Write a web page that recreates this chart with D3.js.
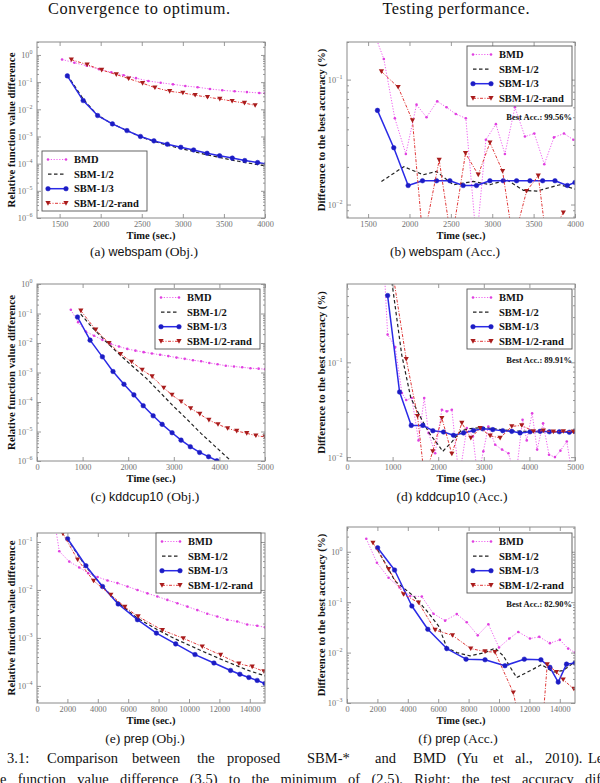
<!DOCTYPE html>
<html><head><meta charset="utf-8">
<script src="https://cdn.jsdelivr.net/npm/d3@7"></script>
<style>body{margin:0;background:#fff}svg{display:block}</style>
</head><body>
<svg id="c" width="600" height="783"></svg>
<script>
// ---------------- DATA ----------------
const seriesNames = ["BMD", "SBM-1/2", "SBM-1/3", "SBM-1/2-rand"];
const columnTitles = ["Convergence to optimum.", "Testing performance."];

// (a) webspam (Obj.)
const a_BMD = [[1530,0.68],[1680,0.52],[1830,0.40],[1980,0.30],[2130,0.23],[2280,0.18],[2430,0.14],[2580,0.11],[2730,0.095],[2880,0.083],[3030,0.072],[3180,0.065],[3330,0.056],[3480,0.050],[3630,0.046],[3780,0.043],[3930,0.040],[4000,0.039]];
const a_S12 = [[1594,0.18],[1700,0.06],[1787,0.024],[1963,0.0060],[2143,0.0029],[2320,0.00165],[2484,0.00098],[2648,0.00066],[2811,0.00048],[2975,0.00036],[3131,0.00028],[3295,0.00021],[3447,0.00017],[3602,0.000135],[3754,0.00011],[3910,9.2e-5],[4000,8.4e-5]];
const a_S13 = [[1594,0.17],[1787,0.021],[1963,0.0059],[2143,0.0029],[2320,0.00165],[2484,0.001],[2648,0.00069],[2811,0.00052],[2975,0.0004],[3131,0.00032],[3295,0.00024],[3447,0.000195],[3602,0.00016],[3754,0.00013],[3910,0.00011],[4020,9.8e-5]];
const a_RAND = [[1643,0.67],[1836,0.44],[2012,0.28],[2190,0.19],[2340,0.135],[2510,0.091],[2660,0.063],[2840,0.046],[3000,0.040],[3150,0.033],[3300,0.028],[3450,0.024],[3600,0.020],[3750,0.017],[3880,0.014]];

// (b) webspam (Acc.)
const b_BMD = [[1560,0.25],[1690,0.146],[1823,0.049],[1956,0.0254],[2085,0.063],[2206,0.050],[2335,0.067],[2448,0.060],[2560,0.053],[2681,0.049],[2810,0.005],[2923,0.033],[3044,0.044],[3153,0.0254],[3274,0.060],[3395,0.035],[3508,0.037],[3629,0.021],[3746,0.0345],[3867,0.037],[3980,0.033]];
const b_S12 = [[1661,0.0153],[1931,0.0201],[2165,0.0173],[2327,0.0184],[2528,0.0144],[2770,0.0153],[2972,0.0144],[3173,0.0158],[3375,0.013],[3536,0.0128],[3818,0.0144],[4000,0.0133]];
const b_S13 = [[1613,0.0567],[1810,0.0285],[1984,0.0142],[2157,0.0155],[2327,0.0155],[2488,0.0155],[2649,0.0142],[2810,0.0142],[2972,0.0155],[3133,0.0155],[3294,0.0155],[3456,0.0155],[3609,0.0155],[3758,0.0155],[3907,0.0142],[4000,0.015]];
const b_RAND = [[1661,0.116],[1863,0.087],[2036,0.047],[2165,0.005],[2359,0.0227],[2508,0.005],[2677,0.0257],[2831,0.0173],[2972,0.0313],[3125,0.0185],[3254,0.005],[3415,0.0128],[3556,0.017],[3657,0.005],[3859,0.0086]];

// (c) kddcup10 (Obj.)
const c_BMD = [[742,0.134],[902,0.051],[1070,0.0245],[1252,0.0176],[1434,0.0128],[1616,0.0094],[1798,0.0076],[1980,0.0063],[2160,0.0055],[2340,0.0049],[2520,0.0044],[2700,0.0040],[2880,0.0036],[3060,0.0032],[3240,0.0029],[3420,0.0026],[3600,0.0024],[3780,0.0021],[3960,0.0019],[4140,0.0017],[4320,0.0016],[4500,0.0015],[4680,0.0014],[4860,0.00135],[5000,0.0013]];
const c_S12 = [[960,0.095],[1200,0.035],[1500,0.0117],[1800,0.0042],[2100,0.0016],[2400,0.00063],[2700,0.00021],[3000,7e-5],[3300,2.5e-5],[3600,8.5e-6],[3900,3.2e-6],[4200,1.2e-6],[4450,4e-7]];
const c_S13 = [[888,0.076],[1164,0.0125],[1434,0.0034],[1667,0.00108],[1907,0.0004],[2125,0.000174],[2329,7.5e-5],[2547,3.4e-5],[2744,1.75e-5],[2962,9.1e-6],[3159,5.1e-6],[3362,3.05e-6],[3566,1.95e-6],[3763,1.4e-6],[3945,1.02e-6],[4100,8e-7]];
const c_RAND = [[961,0.124],[1288,0.028],[1579,0.0099],[1834,0.0042],[2074,0.0023],[2307,0.00123],[2525,0.00073],[2780,0.0003],[2960,0.000174],[3160,0.000103],[3370,6.1e-5],[3570,3.9e-5],[3770,2.45e-5],[3970,1.75e-5],[4180,1.28e-5],[4380,1.04e-5],[4600,8.7e-6],[4800,7.2e-6],[5000,6.6e-6]];

// (d) kddcup10 (Acc.)
const d_BMD = [[820,0.9],[891,0.196],[1058,0.145],[1204,0.0474],[1299,0.040],[1420,0.042],[1569,0.015],[1693,0.042],[1788,0.018],[1934,0.011],[2080,0.0316],[2190,0.0304],[2299,0.0316],[2460,0.006],[2628,0.0202],[2760,0.0166],[2870,0.006],[2990,0.0115],[3100,0.021],[3250,0.0135],[3400,0.012],[3540,0.011],[3700,0.006],[3850,0.0248],[3942,0.015],[4060,0.029],[4170,0.012],[4300,0.0227],[4430,0.0106],[4560,0.010],[4680,0.0117],[4820,0.0146],[4950,0.006]];
const d_S12 = [[985,0.7],[1200,0.12],[1400,0.042],[1600,0.027],[1800,0.018],[2000,0.0135],[2100,0.0115],[2300,0.0145],[2500,0.019],[2700,0.020],[3000,0.0205],[3300,0.0197],[3600,0.019],[4000,0.0186],[4500,0.0185],[5000,0.0186]];
const d_S13 = [[891,0.506],[1153,0.0486],[1409,0.0216],[1664,0.0216],[1883,0.019],[2117,0.0184],[2336,0.017],[2555,0.018],[2774,0.0191],[2978,0.0199],[3197,0.0195],[3416,0.019],[3613,0.0187],[3796,0.018],[4015,0.0185],[4234,0.0187],[4438,0.0185],[4657,0.0185],[4876,0.0183],[5000,0.0187]];
const d_RAND = [[1000,0.9],[1299,0.108],[1547,0.027],[1700,0.006],[1880,0.0115],[2080,0.0258],[2299,0.0108],[2518,0.0229],[2715,0.0159],[2920,0.0202],[3139,0.0168],[3358,0.0159],[3613,0.0211],[3832,0.0216],[4088,0.0187],[4307,0.019],[4526,0.0185],[4745,0.0187],[4964,0.0185]];

// (e) prep (Obj.)
const e_BMD = [[1200,0.22],[1466,0.064],[2122,0.039],[2779,0.0295],[3370,0.0224],[3983,0.0186],[4639,0.0158],[5295,0.0139],[5952,0.0118],[6608,0.010],[7265,0.0085],[7921,0.0073],[8578,0.0062],[9234,0.0053],[9891,0.0045],[10547,0.0038],[11204,0.0032],[11860,0.0028],[12516,0.0024],[13173,0.0022],[13829,0.0019],[14486,0.0018],[15000,0.00166]];
const e_S12 = [[2000,0.115],[3200,0.031],[4300,0.012],[5300,0.0055],[6600,0.0026],[7900,0.0015],[9100,0.00095],[10400,0.00062],[11600,0.00042],[12700,0.0003],[13900,0.00021],[15000,0.000162]];
const e_S13 = [[2013,0.117],[3217,0.032],[4311,0.0118],[5339,0.0051],[6608,0.0024],[7855,0.00126],[9125,0.00075],[10394,0.00045],[11641,0.0003],[12735,0.00021],[13348,0.000175],[13939,0.00015],[14486,0.00013],[15000,0.000112]];
const e_RAND = [[1700,0.15],[2670,0.043],[3720,0.0155],[4858,0.0079],[5777,0.0044],[6652,0.0028],[8250,0.00145],[9628,0.00098],[10875,0.00066],[12079,0.00044],[13282,0.00029],[14158,0.00025],[14923,0.0002]];

// (f) prep (Acc.)
const f_BMD = [[1269,1.81],[1969,0.605],[2735,0.306],[3457,0.195],[4158,0.133],[4923,0.129],[5689,0.059],[6455,0.043],[7221,0.058],[7877,0.040],[8600,0.022],[9300,0.0366],[10000,0.0126],[10678,0.019],[11269,0.0257],[12035,0.019],[12648,0.0205],[13348,0.0154],[14004,0.0179],[14551,0.012],[15000,0.010]];
const f_S12 = [[2013,1.1],[3173,0.26],[4376,0.133],[5252,0.067],[6018,0.034],[6565,0.0126],[7221,0.01],[8096,0.0086],[9081,0.01],[9737,0.0123],[10285,0.0086],[11160,0.0032],[12254,0.0047],[12800,0.0058],[13567,0.0041],[14223,0.0044],[15000,0.0066]];
const f_S13 = [[2013,1.2],[3129,0.434],[4267,0.084],[5317,0.029],[6565,0.012],[7834,0.0074],[9081,0.0072],[10394,0.0055],[11663,0.0074],[12757,0.0072],[13348,0.0051],[13895,0.0026],[14442,0.0059],[15000,0.0062]];
const f_RAND = [[1707,1.5],[2735,0.45],[3720,0.143],[4705,0.098],[5799,0.028],[6937,0.022],[8140,0.012],[9081,0.0105],[9737,0.0102],[10941,0.0016],[11300,0.0005],[12900,0.0005],[13173,0.0058],[13786,0.0041],[14223,0.0029],[14923,0.0019]];

// tick values
const xTicksWebspam = [1500,2000,2500,3000,3500,4000];
const xTicksKdd = [0,1000,2000,3000,4000,5000];
const xTicksPrep = [0,2000,4000,6000,8000,10000,12000,14000];
const bestAcc = ["Best Acc.: 99.56%", "Best Acc.: 89.91%", "Best Acc.: 82.90%"];
const captionsText = [["(a) ","webspam"," (Obj.)"],["(b) ","webspam"," (Acc.)"],["(c) ","kddcup10"," (Obj.)"],["(d) ","kddcup10"," (Acc.)"],["(e) ","prep"," (Obj.)"],["(f) ","prep"," (Acc.)"]];
const yLabels = ["Relative function value difference", "Difference to the best accuracy (%)"];
const xLabel = "Time (sec.)";
const figCaption1 = ["3.1:","Comparison","between","the","proposed","SBM-*","and","BMD","(Yu","et","al.,","2010).","Left:"];
const figCaption2 = "e function value difference (3.5) to the minimum of (2.5). Right: the test accuracy dif";

// ---------------- STYLE / LAYOUT ----------------
const SERIF = "'Liberation Serif','DejaVu Serif',serif";
const SANS = "'Liberation Sans','DejaVu Sans',sans-serif";
const STY = [
  {stroke:'#f060f0', dash:'1.2,1.6', width:1, marker:'dot', fill:'#e040e0'},
  {stroke:'#222222', dash:'3.5,2.5', width:1.2, marker:null},
  {stroke:'#2a2ae6', dash:null, width:1.5, marker:'circle', fill:'#1c1cc4'},
  {stroke:'#e03838', dash:'3,1.5,1,1.5', width:1, marker:'tri', fill:'#a81c1c'}
];
const capWordX = [7,47,132,197,227,307,375,413,457,493,515,545,588];
const titlePos = [[139,182],[456,147]];

const panels = [
  {box:[37,42,265,218], xDom:[1225,4000], yDom:[1e-6,3], xT:xTicksWebspam, yE:[-6,-5,-4,-3,-2,-1,0], data:[a_BMD,a_S12,a_S13,a_RAND], leg:[42,151], best:null, cap:0, capX:144, capY:256, yl:0},
  {box:[347,42,575,218], xDom:[1245,4000], yDom:[0.0078,0.2], xT:xTicksWebspam, yE:[-2,-1], data:[b_BMD,b_S12,b_S13,b_RAND], leg:[467,46], best:0, cap:1, capX:445, capY:256, yl:1},
  {box:[37,284,265,461], xDom:[0,5000], yDom:[1e-6,1], xT:xTicksKdd, yE:[-6,-5,-4,-3,-2,-1,0], data:[c_BMD,c_S12,c_S13,c_RAND], leg:[155,289], best:null, cap:2, capX:145, capY:501, yl:0},
  {box:[347,284,575,461], xDom:[0,5000], yDom:[0.0091,0.67], xT:xTicksKdd, yE:[-2,-1], data:[d_BMD,d_S12,d_S13,d_RAND], leg:[467,289], best:1, cap:3, capX:452, capY:501, yl:1},
  {box:[37,533,265,703], xDom:[0,15000], yDom:[4.4e-5,0.154], xT:xTicksPrep, yE:[-4,-3,-2,-1], data:[e_BMD,e_S12,e_S13,e_RAND], leg:[156,533], best:null, cap:4, capX:145, capY:743, yl:0},
  {box:[347,527,575,703], xDom:[0,15000], yDom:[1e-3,3.1], xT:xTicksPrep, yE:[-3,-2,-1,0], data:[f_BMD,f_S12,f_S13,f_RAND], leg:[467,533], best:2, cap:5, capX:458, capY:743, yl:1}
];

const svg = d3.select('#c');

function drawMarker(g, kind, cx, cy, fill){
  if(kind==='dot') g.append('circle').attr('cx',cx).attr('cy',cy).attr('r',1.3).attr('fill',fill);
  else if(kind==='circle') g.append('circle').attr('cx',cx).attr('cy',cy).attr('r',2.3).attr('fill',fill).attr('stroke',fill).attr('stroke-width',0.5);
  else if(kind==='tri') g.append('path').attr('d',`M${cx-2.6},${cy-2.2}L${cx+2.6},${cy-2.2}L${cx},${cy+2.4}Z`).attr('fill',fill);
}

function supLabel(sel, e){
  sel.text(null);
  sel.append('tspan').text('10');
  sel.append('tspan').attr('dy',-4).attr('font-size',6).text(e<0 ? '\u2212'+(-e) : ''+e);
}

panels.forEach((p,pi)=>{
  const [l,t,r,b] = p.box;
  const x = d3.scaleLinear().domain(p.xDom).range([l,r]);
  const y = d3.scaleLog().domain(p.yDom).range([b,t]);
  const g = svg.append('g');
  const cid = 'clip'+pi;
  svg.append('defs').append('clipPath').attr('id',cid).append('rect').attr('x',l).attr('y',t).attr('width',r-l).attr('height',b-t);
  const plot = g.append('g').attr('clip-path',`url(#${cid})`);
  const line = d3.line().x(d=>x(d[0])).y(d=>y(d[1]));
  p.data.forEach((ser,si)=>{
    const s = STY[si];
    plot.append('path').attr('d',line(ser)).attr('fill','none').attr('stroke',s.stroke)
      .attr('stroke-width',s.width).attr('stroke-dasharray',s.dash).attr('stroke-linejoin','round');
    if(s.marker) ser.forEach(d=>drawMarker(plot,s.marker,x(d[0]),y(d[1]),s.fill));
  });

  // axes
  const tickCol = '#808080';
  const majors = p.yE.map(e=>Math.pow(10,e));
  const minors = [];
  for(let e=Math.floor(Math.log10(p.yDom[0])); e<=Math.ceil(Math.log10(p.yDom[1])); e++)
    for(let k=2;k<=9;k++){ const v=k*Math.pow(10,e); if(v>=p.yDom[0]&&v<=p.yDom[1]) minors.push(v); }

  const ax = [
    g.append('g').attr('transform',`translate(0,${b})`).call(d3.axisBottom(x).tickValues(p.xT).tickSize(-4).tickPadding(3.5).tickFormat(d3.format('d'))),
    g.append('g').attr('transform',`translate(0,${t})`).call(d3.axisTop(x).tickValues(p.xT).tickSize(-4).tickFormat('')),
    g.append('g').attr('transform',`translate(${l},0)`).call(d3.axisLeft(y).tickValues(majors).tickSize(-4).tickPadding(4.5)),
    g.append('g').attr('transform',`translate(${r},0)`).call(d3.axisRight(y).tickValues(majors).tickSize(-4).tickFormat('')),
    g.append('g').attr('transform',`translate(${l},0)`).call(d3.axisLeft(y).tickValues(minors).tickSize(-2).tickFormat('')),
    g.append('g').attr('transform',`translate(${r},0)`).call(d3.axisRight(y).tickValues(minors).tickSize(-2).tickFormat(''))
  ];
  ax.forEach(a=>{
    a.select('.domain').remove();
    a.selectAll('line').attr('stroke',tickCol).attr('stroke-width',0.8);
    a.selectAll('text').attr('fill','#707070').attr('font-family',SERIF).attr('font-size',8.3);
  });
  ax[2].selectAll('.tick text').each(function(d){ supLabel(d3.select(this), Math.round(Math.log10(d))); }).attr('dy','0.35em');
  g.append('rect').attr('x',l).attr('y',t).attr('width',r-l).attr('height',b-t).attr('fill','none').attr('stroke','#8a8a8a').attr('stroke-width',1);

  // axis labels
  g.append('text').attr('x',(l+r)/2).attr('y',b+21).attr('text-anchor','middle')
    .attr('font-family',SERIF).attr('font-weight','bold').attr('font-size',10.5).attr('fill','#111').text(xLabel);
  const ylx = l - 22, ylc = (t+b)/2;
  g.append('text').attr('transform',`translate(${ylx},${ylc}) rotate(-90)`).attr('text-anchor','middle')
    .attr('font-family',SERIF).attr('font-weight','bold').attr('font-size',10.8).attr('fill','#111').text(yLabels[p.yl]);

  // legend
  const [lx,ly] = p.leg;
  const lg = g.append('g');
  lg.append('rect').attr('x',lx).attr('y',ly).attr('width',105).attr('height',60).attr('fill','#fff').attr('stroke','#555').attr('stroke-width',0.9);
  seriesNames.forEach((nm,si)=>{
    const s = STY[si];
    const ry = ly + 8.5 + si*14.6;
    lg.append('line').attr('x1',lx+6).attr('x2',lx+24).attr('y1',ry).attr('y2',ry).attr('stroke',s.stroke)
      .attr('stroke-width',s.width).attr('stroke-dasharray',s.dash);
    if(s.marker){ drawMarker(lg,s.marker,lx+6,ry,s.fill); drawMarker(lg,s.marker,lx+24,ry,s.fill); }
    lg.append('text').attr('x',lx+32).attr('y',ry+3.6).attr('font-family',SERIF).attr('font-weight','bold')
      .attr('font-size',10.5).attr('fill','#111').text(nm);
  });
  if(p.best!==null){
    g.append('text').attr('x',lx+105).attr('y',ly+73.5).attr('text-anchor','end').attr('font-family',SERIF)
      .attr('font-weight','bold').attr('font-size',8.5).attr('fill','#111').text(bestAcc[p.best]);
  }

  // caption
  const ct = captionsText[p.cap];
  const cap = g.append('text').attr('x',p.capX).attr('y',p.capY).attr('text-anchor','middle').attr('font-size',13.5).attr('fill','#111');
  cap.append('tspan').attr('font-family',SERIF).text(ct[0]);
  cap.append('tspan').attr('font-family',SANS).attr('font-size',12.5).text(ct[1]);
  cap.append('tspan').attr('font-family',SERIF).text(ct[2]);
});

// column titles
columnTitles.forEach((tx,i)=>{
  const [cx,w] = titlePos[i];
  svg.append('text').attr('x',cx - w/2).attr('y',14).attr('font-family',SERIF)
    .attr('font-size',16.3).attr('fill','#111').attr('textLength',w).attr('lengthAdjust','spacing').text(tx);
});

// figure caption
figCaption1.forEach((w,i)=>{
  svg.append('text').attr('x',capWordX[i]).attr('y',763).attr('font-family',SERIF)
    .attr('font-size',14.5).attr('fill','#111').text(w);
});
const line2 = svg.append('text').attr('x',0).attr('y',784).attr('font-family',SERIF).attr('font-size',14.5).attr('fill','#111')
  .text(figCaption2);
const nat = line2.node().getComputedTextLength();
const nsp = (figCaption2.match(/ /g)||[]).length;
line2.attr('word-spacing', ((601 - nat)/nsp).toFixed(2));
</script>
</body></html>
